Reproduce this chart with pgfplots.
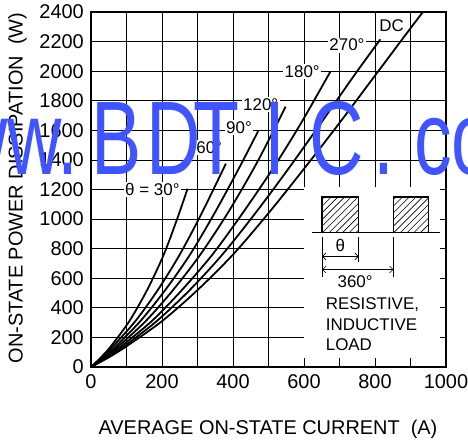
\documentclass[border=0pt]{standalone}
\usepackage{fontspec}
\setmainfont{Liberation Sans}
\newfontfamily\wmfont[FakeStretch=0.72]{Liberation Sans}
\usepackage{pgfplots}
\pgfplotsset{compat=1.18}
\usetikzlibrary{arrows.meta}

\definecolor{wmblue}{RGB}{64,84,255}

\begin{document}
\begin{tikzpicture}[curve/.style={black, line width=1.8pt, smooth, mark=none}]
\begin{axis}[
  name=ax, scale only axis, width=355bp, height=355bp,
  xmin=0, xmax=1000, ymin=0, ymax=2400,
  xtick={0,200,...,1000}, ytick={0,200,...,2400},
  minor xtick={100,300,...,900},
  grid=both,
  major grid style={black, line width=0.8pt},
  minor grid style={black, line width=0.8pt},
  axis line style={line width=2.6pt},
  major tick length=0pt, minor tick length=0pt,
  tick style={draw=none},
  /pgf/number format/assume math mode=true,
  /pgf/number format/1000 sep={},
  ticklabel style={font=\fontsize{20}{24}\selectfont, inner sep=0pt},
  yticklabel style={anchor=east, xshift=-7bp},
  xticklabel style={anchor=north, yshift=-7.5bp},
  xlabel={AVERAGE ON-STATE CURRENT\ \ (A)},
  ylabel={ON-STATE POWER DISSIPATION\ \ (W)},
  label style={font=\fontsize{20}{24}\selectfont, inner sep=0pt},
  xlabel style={at={(axis description cs:0.4986,-0.190)}, anchor=base},
  ylabel style={at={(axis description cs:-0.1924,0.504)}, anchor=base},
]
% theta = 30
\addplot[curve] coordinates {(0,0) (28,65) (56,140) (108,310) (158,520) (205,760) (244,1010) (272,1205)};
% 60
\addplot[curve] coordinates {(0,0) (31,65) (62,140) (125,310) (188,520) (250,760) (312,1040) (380,1375)};
% 90
\addplot[curve] coordinates {(0,0) (35,65) (70,140) (139,310) (209,520) (279,760) (348,1040) (416,1340) (472,1600)};
% 120
\addplot[curve] coordinates {(0,0) (38,65) (77,140) (154,310) (231,520) (308,760) (385,1040) (458,1340) (503,1545) (548,1760)};
% 180
\addplot[curve] coordinates {(0,0) (43,65) (85,140) (171,310) (256,520) (342,760) (427,1040) (512,1340) (592,1650) (675,2000)};
% 270
\addplot[curve] coordinates {(0,0) (46,65) (93,140) (185,310) (278,520) (370,760) (463,1040) (556,1340) (648,1650) (741,1970) (815,2215)};
% DC
\addplot[curve] coordinates {(0,0) (50,65) (100,140) (200,310) (300,520) (400,760) (500,1040) (600,1340) (700,1650) (800,1970) (900,2290) (935,2400)};

% curve labels
\begin{scope}[every node/.style={fill=white, inner sep=1.5pt, font=\fontsize{17}{20}\selectfont}]
\node at (axis cs:173,1200) {θ = 30°};
\node at (axis cs:333,1485) {60°};
\node at (axis cs:417,1620) {90°};
\node at (axis cs:478,1773) {120°};
\node at (axis cs:595,1996) {180°};
\node at (axis cs:721,2176) {270°};
\node at (axis cs:847,2306) {DC};
\end{scope}

% inset
\fill[white] (axis cs:599,61) rectangle (axis cs:983,1216);
\draw[line width=0.8pt] (axis cs:623,908) -- (axis cs:983,908);
\coordinate (p1a) at (axis cs:651,908);
\coordinate (p1b) at (axis cs:754,1148);
\coordinate (p2a) at (axis cs:852,908);
\coordinate (p2b) at (axis cs:950,1148);
\draw[line width=0.6pt] (axis cs:651,879) -- (axis cs:651,609);
\draw[line width=0.6pt] (axis cs:754,879) -- (axis cs:754,710);
\draw[line width=0.6pt] (axis cs:852,879) -- (axis cs:852,609);
\draw[line width=0.6pt, {Straight Barb[length=3.5pt]}-{Straight Barb[length=3.5pt]}]
  (axis cs:651,748) -- (axis cs:754,748);
\draw[line width=0.6pt, {Straight Barb[length=3.5pt]}-{Straight Barb[length=3.5pt]}]
  (axis cs:651,659) -- (axis cs:852,659);
\begin{scope}[every node/.style={inner sep=0pt, font=\fontsize{17}{20}\selectfont}]
\node at (axis cs:702,822) {θ};
\node at (axis cs:744,575) {360°};
\node[anchor=base west] at (axis cs:661,388) {RESISTIVE,};
\node[anchor=base west] at (axis cs:661,249) {INDUCTIVE};
\node[anchor=base west] at (axis cs:661,112) {LOAD};
\end{scope}
\end{axis}

% hatched pulses
\foreach \a/\b in {p1a/p1b, p2a/p2b} {
  \begin{scope}
    \clip (\a) rectangle (\b);
    \foreach \k in {0,...,12} {
      \draw[line width=0.6pt] ([xshift={\k*6.7bp-40bp}]\a) -- ++(42bp,42bp);
    }
  \end{scope}
  \draw[line width=1.5pt] (\a) rectangle (\b);
}

% watermark
\begin{scope}[every node/.style={inner sep=0pt, font=\wmfont\fontsize{105}{105}\selectfont, text=wmblue}]
\node[anchor=base east] at ([shift={(-12.2bp,192bp)}]ax.south west) {www.};
\node[anchor=base west] at ([shift={(0.1bp,192bp)}]ax.south west) {B};
\node[anchor=base west] at ([shift={(54.9bp,192bp)}]ax.south west) {D};
\node[anchor=base west] at ([shift={(102.3bp,192bp)}]ax.south west) {T};
\node[anchor=base west] at ([shift={(173.6bp,192bp)}]ax.south west) {I};
\node[anchor=base west] at ([shift={(218.2bp,192bp)}]ax.south west) {C};
\node[anchor=base west] at ([shift={(282.2bp,192bp)}]ax.south west) {.};
\node[anchor=base west] at ([shift={(323bp,192bp)}]ax.south west) {com};
\end{scope}

\pgfresetboundingbox
\path ([shift={(-91bp,-74bp)}]ax.south west) rectangle ([shift={(22bp,12bp)}]ax.north east);
\end{tikzpicture}
\end{document}
